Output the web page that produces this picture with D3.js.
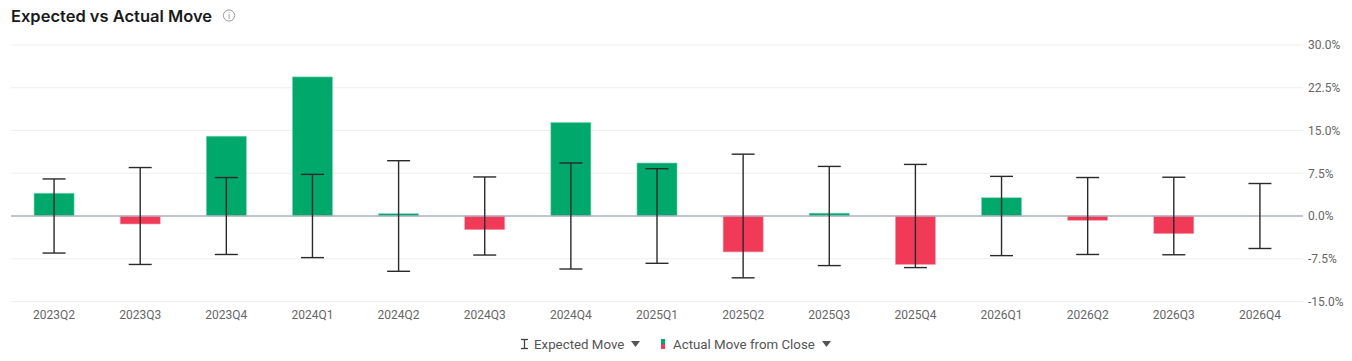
<!DOCTYPE html>
<html>
<head>
<meta charset="utf-8">
<script src="https://cdn.jsdelivr.net/npm/d3@7/dist/d3.min.js"></script>
<style>
  html, body { margin: 0; padding: 0; background: #fff; }
  svg { display: block; font-family: Roboto, "Noto Sans", sans-serif; }
</style>
</head>
<body>
<svg id="chart" width="1352" height="361"></svg>
<script>
const categories = ["2023Q2","2023Q3","2023Q4","2024Q1","2024Q2","2024Q3","2024Q4","2025Q1","2025Q2","2025Q3","2025Q4","2026Q1","2026Q2","2026Q3","2026Q4"];
const actualMove = [4.0, -1.4, 14.0, 24.4, 0.4, -2.4, 16.4, 9.3, -6.3, 0.5, -8.5, 3.2, -0.75, -3.1, null];
const expectedMove = [6.5, 8.5, 6.75, 7.3, 9.7, 6.85, 9.3, 8.3, 10.85, 8.7, 9.05, 6.95, 6.75, 6.8, 5.7];
const yTicks = [-15, -7.5, 0, 7.5, 15, 22.5, 30];
const titleText = "Expected vs Actual Move";
const legendLabels = ["Expected Move", "Actual Move from Close"];

const svg = d3.select("#chart");
const plot = { left: 11, right: 1303, top: 45, bottom: 301.5 };

const x = d3.scaleBand().domain(categories).range([plot.left, plot.right]).paddingInner(0.535).paddingOuter(0.2675);
const y = d3.scaleLinear().domain([-15, 30]).range([plot.bottom, plot.top]);

const green = "#00a86b", red = "#f03a57";

// Title
svg.append("text").attr("x", 11).attr("y", 22)
  .attr("font-family", "Inter, Roboto, sans-serif")
  .attr("font-size", 16).attr("font-weight", 600).attr("fill", "#1a1a1a")
  .attr("textLength", 201).attr("lengthAdjust", "spacingAndGlyphs")
  .text(titleText);
const info = svg.append("g").attr("transform", "translate(229,15.5)");
info.append("circle").attr("r", 5.6).attr("fill", "none").attr("stroke", "#9a9a9a").attr("stroke-width", 1);
info.append("text").attr("y", 3.4).attr("text-anchor", "middle").attr("font-size", 9).attr("fill", "#9a9a9a").text("i");

// Grid
svg.append("g").selectAll("line").data(yTicks.filter(d => d !== 0)).join("line")
  .attr("x1", plot.left).attr("x2", plot.right)
  .attr("y1", d => y(d)).attr("y2", d => y(d))
  .attr("stroke", "#eeeeee").attr("stroke-width", 1);

// Y axis on right
const yAxis = d3.axisRight(y).tickValues(yTicks).tickSize(0).tickPadding(5)
  .tickFormat(d => d.toFixed(1) + "%");
const yg = svg.append("g").attr("transform", `translate(${plot.right},0)`).call(yAxis);
yg.select(".domain").remove();
yg.selectAll("text").attr("font-size", 12).attr("fill", "#666").attr("font-family", "Roboto, sans-serif");

// X axis
const xAxis = d3.axisBottom(x).tickSize(0).tickPadding(9);
const xg = svg.append("g").attr("transform", `translate(0,${plot.bottom})`).call(xAxis);
xg.select(".domain").remove();
xg.selectAll("text").attr("font-size", 12).attr("fill", "#666").attr("font-family", "Roboto, sans-serif");

// Bars
const rows = categories.map((c, i) => ({ c, a: actualMove[i], e: expectedMove[i] }));
svg.append("g").selectAll("rect").data(rows.filter(d => d.a !== null)).join("rect")
  .attr("x", d => x(d.c))
  .attr("width", x.bandwidth())
  .attr("y", d => y(Math.max(0, d.a)))
  .attr("height", d => Math.abs(y(d.a) - y(0)))
  .attr("fill", d => d.a >= 0 ? green : red)
  .attr("stroke", d => d.a >= 0 ? "#7fd4b5" : "#f79cab")
  .attr("stroke-width", 0.6);

// Zero line
svg.append("line").attr("x1", plot.left).attr("x2", plot.right)
  .attr("y1", y(0)).attr("y2", y(0))
  .attr("stroke", "#adb1c2").attr("stroke-width", 1.6);

// Error bars
const cap = 11.5;
const eg = svg.append("g").attr("stroke", "#2a2a2a").attr("stroke-width", 1.4);
rows.forEach(d => {
  const cx = x(d.c) + x.bandwidth() / 2;
  eg.append("line").attr("x1", cx).attr("x2", cx).attr("y1", y(d.e)).attr("y2", y(-d.e));
  eg.append("line").attr("x1", cx - cap).attr("x2", cx + cap).attr("y1", y(d.e)).attr("y2", y(d.e));
  eg.append("line").attr("x1", cx - cap).attr("x2", cx + cap).attr("y1", y(-d.e)).attr("y2", y(-d.e));
});

// Legend
const lg = svg.append("g");
const ly = 344;
const ei = lg.append("g").attr("stroke", "#444").attr("stroke-width", 1.3);
ei.append("line").attr("x1", 524.5).attr("x2", 524.5).attr("y1", 339.5).attr("y2", 348.5);
ei.append("line").attr("x1", 521).attr("x2", 528).attr("y1", 339.5).attr("y2", 339.5);
ei.append("line").attr("x1", 521).attr("x2", 528).attr("y1", 348.5).attr("y2", 348.5);
lg.append("text").attr("x", 534).attr("y", ly + 4.5).attr("font-size", 13.3).attr("fill", "#555").text(legendLabels[0]);
lg.append("path").attr("d", "M631,341 L640,341 L635.5,347 Z").attr("fill", "#555");
lg.append("rect").attr("x", 661).attr("y", 339).attr("width", 4).attr("height", 5).attr("fill", green);
lg.append("rect").attr("x", 661).attr("y", 344).attr("width", 4).attr("height", 5).attr("fill", red);
lg.append("text").attr("x", 673).attr("y", ly + 4.5).attr("font-size", 13.3).attr("fill", "#555").text(legendLabels[1]);
lg.append("path").attr("d", "M822,341 L831,341 L826.5,347 Z").attr("fill", "#555");
</script>
</body>
</html>
